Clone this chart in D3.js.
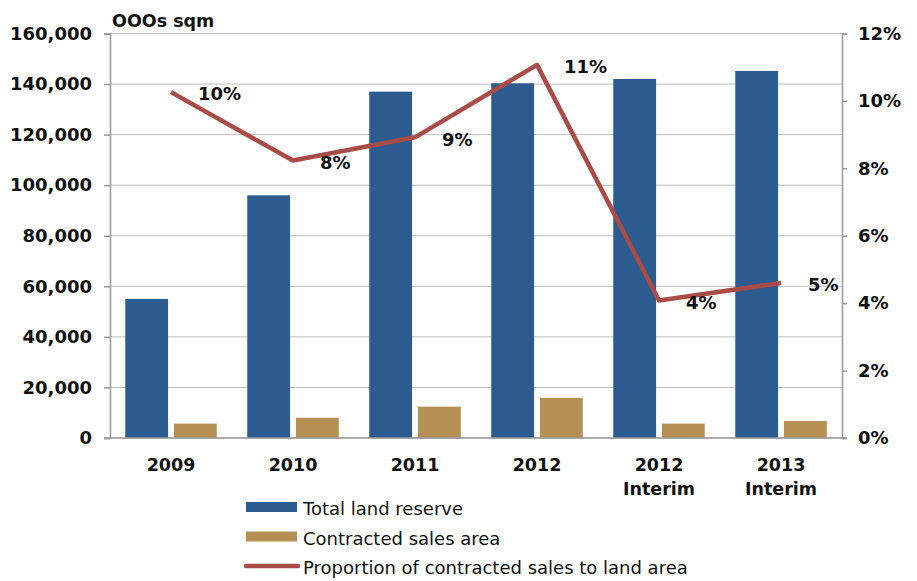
<!DOCTYPE html>
<html lang="en">
<head>
<meta charset="UTF-8">
<title>Land reserve</title>
<style>
  body { margin: 0; background: #fff; }
  text { font-family: "DejaVu Sans", "Noto Sans", sans-serif; }
</style>
</head>
<body>
<script src="https://d3js.org/d3.v7.min.js"></script>
<script>
// chart values
let categories = [["2009"], ["2010"], ["2011"], ["2012"], ["2012", "Interim"], ["2013", "Interim"]];
let landReserve = [55000, 96000, 137000, 140300, 142000, 145200];
let contractedSales = [5700, 8000, 12400, 15900, 5700, 6700];
let proportion = [10.26, 8.23, 8.92, 11.07, 4.08, 4.6];
let proportionLabels = ["10%", "8%", "9%", "11%", "4%", "5%"];
let leftTicks = [0, 20000, 40000, 60000, 80000, 100000, 120000, 140000, 160000];
let rightTicks = [0, 2, 4, 6, 8, 10, 12];
let seriesNames = ["Total land reserve", "Contracted sales area", "Proportion of contracted sales to land area"];

let blue = "#2b5b8f", tan = "#b68f55", red = "#a94b46";

let svgWidth = 917, svgHeight = 581;
let margin = { top: 33.5, right: 75, bottom: 143, left: 110 };
let chartWidth = svgWidth - margin.left - margin.right;
let chartHeight = svgHeight - margin.top - margin.bottom;

let svg = d3.select("body").append("svg")
  .attr("width", svgWidth)
  .attr("height", svgHeight);

let g = svg.append("g")
  .attr("transform", `translate(${margin.left}, ${margin.top})`);

let keys = categories.map(c => c.join(" "));

let x = d3.scaleBand().domain(keys).range([0, chartWidth]).paddingInner(0.25).paddingOuter(0.125);
let xInner = d3.scaleBand().domain([0, 1]).range([0, x.bandwidth()]).paddingInner(0.12);
let yLeft = d3.scaleLinear().domain([0, 160000]).range([chartHeight, 0]);
let yRight = d3.scaleLinear().domain([0, 12]).range([chartHeight, 0]);

// gridlines
g.selectAll(".grid")
  .data(leftTicks)
  .enter().append("line")
  .attr("x1", 0).attr("x2", chartWidth)
  .attr("y1", d => yLeft(d)).attr("y2", d => yLeft(d))
  .attr("stroke", "#bcbcbc").attr("stroke-width", 1);

// axes
let leftAxis = g.append("g")
  .call(d3.axisLeft(yLeft).tickValues(leftTicks).tickSize(6).tickPadding(12).tickFormat(d3.format(",")));
let rightAxis = g.append("g")
  .attr("transform", `translate(${chartWidth},0)`)
  .call(d3.axisRight(yRight).tickValues(rightTicks).tickSize(5).tickPadding(11).tickFormat(d => d + "%"));

[leftAxis, rightAxis].forEach(a => {
  a.select(".domain").attr("stroke", "#999").attr("stroke-width", 1.5);
  a.selectAll(".tick line").attr("stroke", "#999").attr("stroke-width", 1.5);
  a.selectAll(".tick text")
    .attr("fill", "#111")
    .style("font-size", "18px")
    .style("font-weight", "bold");
});

// category labels
let catLabels = g.selectAll(".cat")
  .data(categories)
  .enter().append("text")
  .attr("x", (d, i) => x(keys[i]) + x.bandwidth() / 2)
  .attr("y", chartHeight + 33)
  .attr("text-anchor", "middle")
  .attr("fill", "#111")
  .style("font-size", "17.5px")
  .style("font-weight", "bold");
catLabels.selectAll("tspan")
  .data(d => d)
  .enter().append("tspan")
  .attr("x", function() { return d3.select(this.parentNode).attr("x"); })
  .attr("dy", (d, i) => i === 0 ? 0 : "1.35em")
  .text(d => d);

// bars
g.selectAll(".land")
  .data(landReserve)
  .enter().append("rect")
  .attr("x", (d, i) => x(keys[i]) + xInner(0))
  .attr("y", d => yLeft(d))
  .attr("width", xInner.bandwidth())
  .attr("height", d => chartHeight - yLeft(d))
  .attr("fill", blue);

g.selectAll(".sales")
  .data(contractedSales)
  .enter().append("rect")
  .attr("x", (d, i) => x(keys[i]) + xInner(1))
  .attr("y", d => yLeft(d))
  .attr("width", xInner.bandwidth())
  .attr("height", d => chartHeight - yLeft(d))
  .attr("fill", tan);

// baseline
g.append("line")
  .attr("x1", -6).attr("x2", chartWidth + 5)
  .attr("y1", chartHeight).attr("y2", chartHeight)
  .attr("stroke", "#999").attr("stroke-width", 1.5);

// proportion line
let line = d3.line()
  .x((d, i) => x(keys[i]) + x.bandwidth() / 2)
  .y(d => yRight(d));

g.append("path")
  .datum(proportion)
  .attr("d", line)
  .attr("fill", "none")
  .attr("stroke", red)
  .attr("stroke-width", 4.5)
  .attr("stroke-linejoin", "round");

g.selectAll(".plabel")
  .data(proportion)
  .enter().append("text")
  .attr("x", (d, i) => x(keys[i]) + x.bandwidth() / 2 + 27)
  .attr("y", d => yRight(d) + 2)
  .attr("dy", "0.35em")
  .attr("fill", "#111")
  .style("font-size", "18px")
  .style("font-weight", "bold")
  .text((d, i) => proportionLabels[i]);

// unit label
svg.append("text")
  .attr("x", 112)
  .attr("y", 27)
  .attr("fill", "#111")
  .style("font-size", "17.5px")
  .style("font-weight", "bold")
  .text("OOOs sqm");

// legend
let legend = svg.append("g").attr("transform", "translate(246, 507)");
let legendRows = legend.selectAll("g")
  .data(seriesNames)
  .enter().append("g")
  .attr("transform", (d, i) => `translate(0, ${i * 29.5})`);

legendRows.filter((d, i) => i < 2).append("rect")
  .attr("x", 0).attr("y", -5)
  .attr("width", 51).attr("height", 10)
  .attr("fill", (d, i) => i === 0 ? blue : tan);

legendRows.filter((d, i) => i === 2).append("line")
  .attr("x1", 0).attr("x2", 52)
  .attr("y1", 0).attr("y2", 0)
  .attr("stroke", red).attr("stroke-width", 4.5)
  .attr("stroke-linecap", "round");

legendRows.append("text")
  .attr("x", 57)
  .attr("y", 2)
  .attr("dy", "0.35em")
  .attr("fill", "#111")
  .style("font-size", "18px")
  .text(d => d);
</script>
</body>
</html>
